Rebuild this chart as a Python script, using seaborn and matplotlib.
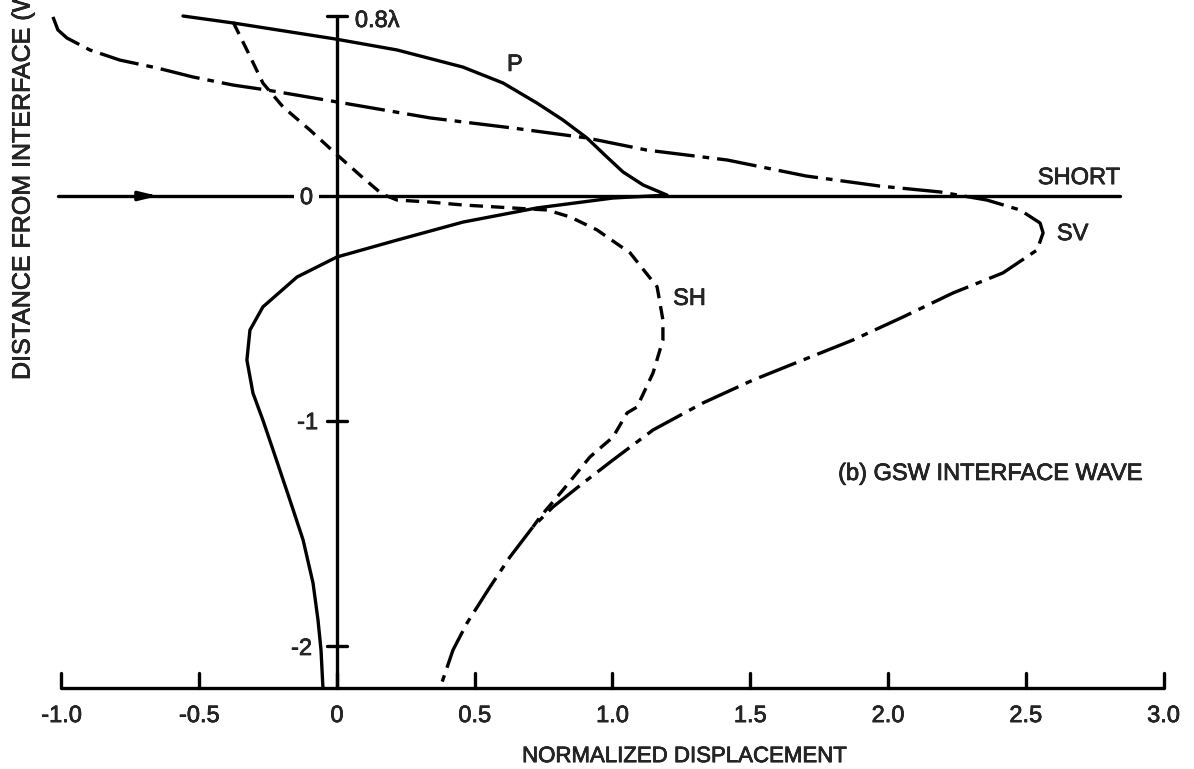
import matplotlib
matplotlib.use("Agg")
import matplotlib.pyplot as plt
import matplotlib.patheffects as pe
import numpy as np
import pandas as pd
import seaborn as sns

# ---------------- data ----------------
# P displacement (solid)
p_x = [-0.559, -0.377, -0.007, 0.218, 0.457, 0.603, 0.726, 0.820, 0.907, 0.980,
       1.038, 1.111, 1.198, 1.002, 0.726, 0.457, 0.218, 0.000, -0.145, -0.269,
       -0.316, -0.327, -0.305, -0.269, -0.232, -0.171, -0.123, -0.087, -0.069,
       -0.058, -0.051]
p_y = [0.800, 0.769, 0.698, 0.649, 0.573, 0.502, 0.413, 0.338, 0.258, 0.173,
       0.107, 0.049, 0.004, -0.009, -0.053, -0.116, -0.196, -0.271, -0.360, -0.493,
       -0.596, -0.729, -0.876, -0.996, -1.129, -1.351, -1.529, -1.720, -1.884,
       -2.018, -2.187]

# SV displacement (dash-dot)
sv_x = [-1.031, -1.013, -0.980, -0.897, -0.788, -0.653, -0.523, -0.377, -0.254,
        0.000, 0.338, 0.639, 0.907, 1.125, 1.416, 1.702, 1.971, 2.189, 2.359,
        2.479, 2.552, 2.563, 2.541, 2.417, 2.236, 2.054, 1.873, 1.691, 1.510,
        1.328, 1.147, 1.002, 0.893, 0.784, 0.711, 0.628, 0.555, 0.472, 0.421, 0.374]
sv_y = [0.796, 0.738, 0.702, 0.649, 0.604, 0.569, 0.529, 0.493, 0.471,
        0.418, 0.347, 0.302, 0.258, 0.204, 0.160, 0.089, 0.044, 0.018, -0.018,
        -0.062, -0.120, -0.164, -0.240, -0.342, -0.431, -0.538, -0.640, -0.729, -0.818,
        -0.920, -1.040, -1.173, -1.276, -1.382, -1.471, -1.604, -1.738, -1.898, -2.018, -2.187]

# SH displacement (dashed)
sh_x = [-0.377, -0.327, -0.269, -0.196, -0.098, -0.007, 0.083, 0.163, 0.218,
        0.338, 0.457, 0.581, 0.701, 0.762, 0.846, 0.944, 1.064, 1.162, 1.183,
        1.183, 1.147, 1.089, 1.053, 1.002, 0.918, 0.820, 0.737, 0.711]
sh_y = [0.773, 0.649, 0.502, 0.396, 0.293, 0.191, 0.093, 0.009, -0.018,
        -0.027, -0.040, -0.049, -0.058, -0.062, -0.093, -0.151, -0.253, -0.404, -0.551,
        -0.640, -0.787, -0.938, -0.964, -1.071, -1.160, -1.307, -1.427, -1.471]

x_ticks = [-1.0, -0.5, 0.0, 0.5, 1.0, 1.5, 2.0, 2.5, 3.0]
x_tick_labels = ["-1.0", "-0.5", "0", "0.5", "1.0", "1.5", "2.0", "2.5", "3.0"]
y_ticks = [0.8, 0.0, -1.0, -2.0]
y_tick_labels = ["0.8λ", "0", "-1", "-2"]

# ---------------- styling ----------------
sns.set_theme(style="white")
plt.rcParams['font.family'] = ['Liberation Sans', 'DejaVu Sans']

LW = 2.4
HEAVY = [pe.withStroke(linewidth=0.5, foreground='black')]

fig = plt.figure(figsize=(11.94, 7.69), dpi=100)
ax = fig.add_axes([0, 0, 1, 1])

y_base = min(p_y)          # level of the bottom (displacement) axis
y_top = max(y_ticks)


def label(x, y, s, **kw):
    t = ax.text(x, y, s, va='baseline', **kw)
    t.set_path_effects(HEAVY)
    return t


# bottom axis with upward ticks
ax.plot([min(x_ticks), max(x_ticks)], [y_base, y_base], color='black', lw=LW,
        solid_capstyle='butt')
for xt, lab in zip(x_ticks, x_tick_labels):
    ax.plot([xt, xt], [y_base, y_base + 0.067], color='black', lw=LW)
    label(xt, -2.338, lab, ha='center', fontsize=17)

# vertical distance axis at x = 0
ax.plot([0, 0], [y_base, y_top], color='black', lw=LW)
for yt in y_ticks:
    if yt != 0:
        ax.plot([-0.036, 0.036], [yt, yt], color='black', lw=LW)
label(0.065, 0.751, y_tick_labels[0], ha='left', fontsize=17)
zero = label(-0.087, -0.036, y_tick_labels[1], ha='right', fontsize=17,
             bbox=dict(facecolor='white', edgecolor='none', pad=4))
zero.set_zorder(5)
label(-0.069, -1.036, y_tick_labels[2], ha='right', fontsize=17)
label(-0.091, -2.04, y_tick_labels[3], ha='right', fontsize=17)

# interface ("SHORT") line with arrow
ax.plot([-1.013, 2.842], [0, 0], color='black', lw=LW, zorder=1)
ax.annotate('', xy=(-0.64, 0), xytext=(-0.70, 0),
            arrowprops=dict(arrowstyle='-|>,head_length=0.9,head_width=0.22',
                            color='black', lw=LW))

# ---------------- curves ----------------
df_p = pd.DataFrame({'x': p_x, 'y': p_y})
df_sv = pd.DataFrame({'x': sv_x, 'y': sv_y})
df_sh = pd.DataFrame({'x': sh_x, 'y': sh_y})

sns.lineplot(data=df_p, x='x', y='y', sort=False, estimator=None, color='black',
             lw=LW, ax=ax)
ax.lines[-1].set_solid_joinstyle('round')

sns.lineplot(data=df_sv, x='x', y='y', sort=False, estimator=None, color='black',
             lw=LW, ax=ax)
ax.lines[-1].set_linestyle((0, (12, 2.4, 2, 2.4)))

sns.lineplot(data=df_sh, x='x', y='y', sort=False, estimator=None, color='black',
             lw=LW, ax=ax)
ax.lines[-1].set_linestyle((0, (4.0, 2.4)))

ax.set_xlim(-1.2232, 3.1107)
ax.set_ylim(-2.5467, 0.8711)
ax.axis('off')

# ---------------- labels ----------------
label(0.617, 0.556, "P", ha='left', fontsize=17)
label(2.842, 0.053, "SHORT", ha='right', fontsize=17)
label(2.613, -0.196, "SV", ha='left', fontsize=17)
label(1.220, -0.484, "SH", ha='left', fontsize=17)
label(1.819, -1.262, "(b) GSW INTERFACE WAVE", ha='left', fontsize=17)

label(1.263, -2.516, "NORMALIZED DISPLACEMENT", ha='center', fontsize=16)
yl = fig.text(22.5 / 1194, (769 - 380) / 769, "DISTANCE FROM INTERFACE (WAVELENGTHS)",
              rotation=90, ha='center', va='bottom', fontsize=18)
yl.set_path_effects(HEAVY)

fig.savefig("out.png", dpi=100, facecolor='white')
